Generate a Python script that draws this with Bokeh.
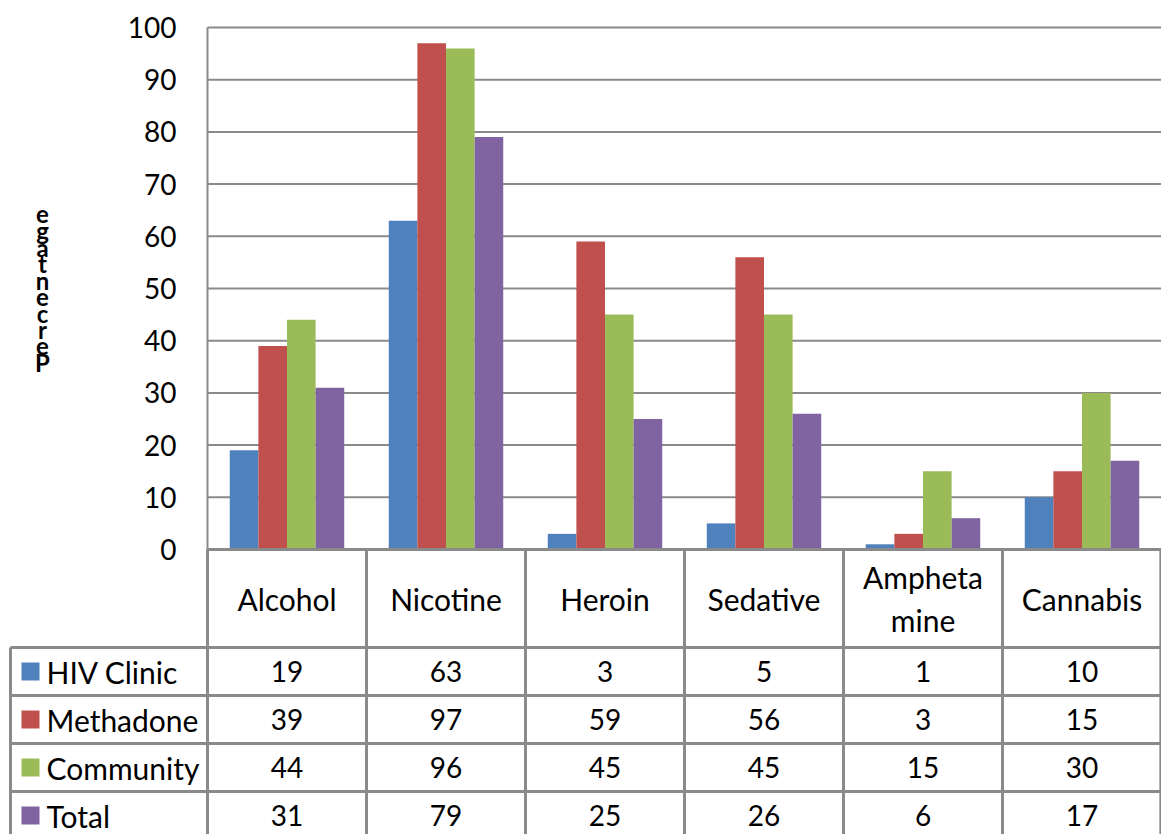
from bokeh.plotting import figure
from bokeh.models import Range1d, ColumnDataSource
from bokeh.embed import file_html
from bokeh.resources import INLINE
from bokeh.core.properties import value

categories = ["Alcohol", "Nicotine", "Heroin", "Sedative", "Amphetamine", "Cannabis"]
category_labels = ["Alcohol", "Nicotine", "Heroin", "Sedative", "Ampheta\nmine", "Cannabis"]
series_names = ["HIV Clinic", "Methadone", "Community", "Total"]
hiv_clinic = [19, 63, 3, 5, 1, 10]
methadone = [39, 97, 59, 56, 3, 15]
community = [44, 96, 45, 45, 15, 30]
total = [31, 79, 25, 26, 6, 17]
y_ticks = [0, 10, 20, 30, 40, 50, 60, 70, 80, 90, 100]
y_label = "Percentage"

series_values = [hiv_clinic, methadone, community, total]
colors = ["#4F81BD", "#C0504D", "#9BBB59", "#8064A2"]
FONT = "Lato"
GRID = "#8a8a8a"

W, H = 1161, 834
LEFT = 207          # pixel x of the value axis
TOP = 27            # pixel y of 100
BASE = 549          # pixel y of 0
n = len(categories)
cat_px = (W - LEFT) / n
pct_px = (BASE - TOP) / 100.0
row_px = 48.0
header_px = 98.0

x_start = -LEFT / cat_px
p = figure(width=W, height=H, output_backend="svg", toolbar_location=None,
           x_range=Range1d(x_start, n),
           y_range=Range1d(-(H - BASE) / pct_px, 100 + TOP / pct_px),
           x_axis_location=None, y_axis_location=None, min_border=0)
p.extra_y_ranges = {"table": Range1d(-(H - BASE) / row_px, BASE / row_px)}
p.outline_line_color = None
p.grid.visible = False

def px_to_x(px):
    return (px - LEFT) / cat_px

# ---------------- value axis ----------------
p.segment(x0=[0] * len(y_ticks), y0=y_ticks, x1=[n] * len(y_ticks), y1=y_ticks,
          line_color=GRID, line_width=2)
p.segment(x0=[0], y0=[0], x1=[0], y1=[max(y_ticks)], line_color=GRID, line_width=2)
p.text(x=[px_to_x(LEFT - 31)] * len(y_ticks), y=y_ticks, text=[str(t) for t in y_ticks],
       text_align="right", text_baseline="middle", text_font=value(FONT),
       text_font_size="28px", text_color="black")

# stacked (overlapping) axis title letters, P at the bottom
letters = list(y_label)
step = 16.5 / pct_px
mid = (len(letters) - 1) / 2
p.text(x=[px_to_x(42)] * len(letters), y=[50 + (k - mid) * step for k in range(len(letters))],
       text=letters, text_align="center", text_baseline="middle", text_font=value(FONT),
       text_font_style="bold", text_font_size="24px", text_color="black")

# ---------------- bars ----------------
bar_w = 0.18
offsets = [-1.5 * bar_w, -0.5 * bar_w, 0.5 * bar_w, 1.5 * bar_w]
for vals, col, off in zip(series_values, colors, offsets):
    src = ColumnDataSource(dict(x=[i + 0.5 + off for i in range(n)], top=vals))
    p.vbar(x="x", top="top", width=bar_w, bottom=0, source=src, fill_color=col, line_color=None)

# ---------------- data table ----------------
header_h = header_px / row_px
left_edge = px_to_x(10)
bottom = -(H - BASE) / row_px
nrows = len(series_names)
hx0 = [0] + [left_edge] * nrows
hx1 = [n] * (nrows + 1)
hy = [0] + [-header_h - k for k in range(nrows)]
p.segment(x0=hx0, y0=hy, x1=hx1, y1=hy, line_color=GRID, line_width=3, y_range_name="table")
vx = [left_edge] + list(range(n)) + [n - 0.004]
vy0 = [-header_h] + [0] * (n + 1)
vy1 = [bottom] * (n + 2)
p.segment(x0=vx, y0=vy0, x1=vx, y1=vy1, line_color=GRID, line_width=3, y_range_name="table")

p.text(x=[i + 0.5 for i in range(n)], y=[-header_h / 2] * n, text=category_labels,
       text_align="center", text_baseline="middle", text_font=value(FONT),
       text_font_size="30px", text_color="black", text_line_height=1.22, y_range_name="table")

row_centers = [-header_h - k - 0.5 for k in range(nrows)]
p.scatter(x=[px_to_x(30)] * nrows, y=row_centers, marker="square", size=18,
          fill_color=colors, line_color=None, y_range_name="table")
p.text(x=[px_to_x(46)] * nrows, y=row_centers, text=series_names, text_align="left",
       text_baseline="middle", text_font=value(FONT), text_font_size="30px",
       text_color="black", y_range_name="table")

xs, ys, ts = [], [], []
for k, vals in enumerate(series_values):
    for i, v in enumerate(vals):
        xs.append(i + 0.5)
        ys.append(row_centers[k])
        ts.append(str(v))
p.text(x=xs, y=ys, text=ts, text_align="center", text_baseline="middle",
       text_font=value(FONT), text_font_size="28px", text_color="black", y_range_name="table")

open("out.html", "w").write(file_html(p, INLINE))
